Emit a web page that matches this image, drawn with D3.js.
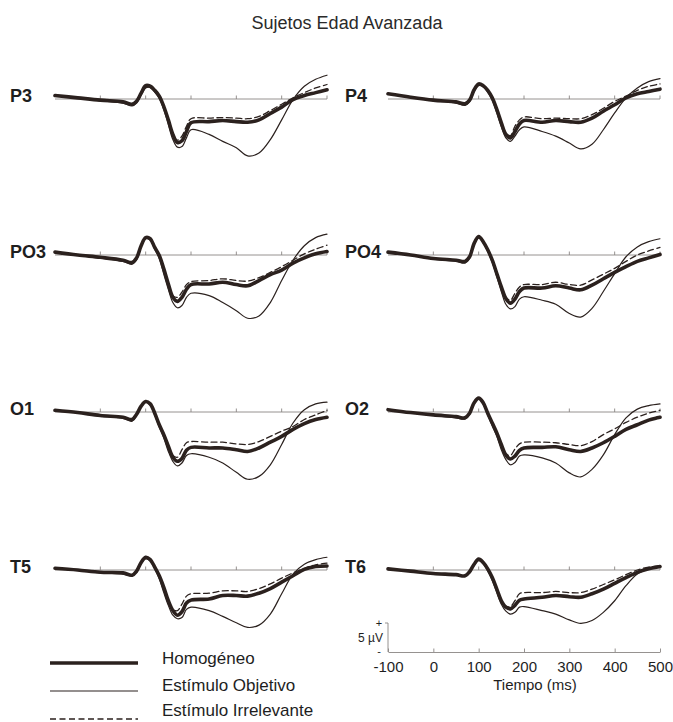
<!DOCTYPE html>
<html>
<head>
<meta charset="utf-8">
<script src="https://cdn.jsdelivr.net/npm/d3@7"></script>
<style>
  html, body { margin: 0; padding: 0; background: #fff; }
  svg { display: block; font-family: "Liberation Sans", Arial, Helvetica, sans-serif; }
</style>
</head>
<body>
<svg id="chart" width="673" height="722"></svg>
<script>
// Sample times (ms) shared by every waveform
const times = [-100, -50, 0, 50, 70, 80, 90, 100, 110, 120, 130, 140, 150, 160, 170, 180, 190, 200, 240, 270, 300, 325, 350, 375, 400, 425, 450, 475, 500];

// Electrode layout (left column, right column)
const electrodes = ["P3", "P4", "PO3", "PO4", "O1", "O2", "T5", "T6"];

// Conditions
const conditions = ["Homogéneo", "Estímulo Objetivo", "Estímulo Irrelevante"];

// Amplitudes in µV per electrode, one array per condition
const homogeneo = {
  P3:  [0.6, 0.2, -0.2, -0.5, -0.9, -0.4, 1.0, 2.3, 2.2, 1.5, 0.5, -1.3, -3.6, -6.1, -7.5, -7.2, -5.6, -4.1, -3.9, -3.7, -3.9, -4.0, -3.6, -2.5, -1.4, -0.1, 0.6, 1.1, 1.6],
  P4:  [0.9, 0.3, -0.2, -0.5, -0.8, -0.2, 1.6, 2.6, 2.3, 1.5, 0.2, -1.8, -4.1, -6.1, -6.7, -5.6, -4.3, -3.7, -4.0, -3.7, -3.9, -4.0, -3.3, -2.1, -1.0, 0.2, 0.9, 1.3, 1.7],
  PO3: [0.5, 0.0, -0.4, -0.9, -1.3, -0.5, 1.6, 3.0, 2.8, 1.3, -0.1, -2.4, -5.0, -7.3, -8.0, -7.3, -5.9, -5.1, -5.0, -4.7, -5.1, -5.3, -4.4, -3.4, -2.6, -1.4, -0.5, 0.2, 0.6],
  PO4: [0.5, 0.0, -0.6, -0.9, -1.1, -0.3, 2.0, 3.2, 2.3, 0.9, -0.9, -3.2, -5.5, -7.5, -8.3, -7.6, -6.3, -5.7, -5.7, -5.3, -5.7, -6.0, -5.2, -4.1, -3.0, -2.0, -1.1, -0.5, 0.1],
  O1:  [0.3, -0.1, -0.6, -0.9, -1.3, -0.4, 1.0, 1.8, 1.4, -0.2, -2.2, -3.9, -5.9, -7.8, -8.5, -8.0, -6.6, -6.1, -6.2, -6.2, -6.5, -6.8, -6.2, -5.2, -4.2, -3.0, -2.0, -1.3, -0.9],
  O2:  [0.4, -0.1, -0.5, -0.8, -1.0, -0.2, 1.6, 2.4, 1.6, -0.2, -1.9, -3.6, -5.6, -7.4, -8.1, -7.6, -6.6, -6.2, -6.1, -6.0, -6.5, -6.8, -6.2, -5.3, -4.2, -3.0, -2.2, -1.4, -0.9],
  T5:  [0.3, 0.0, -0.4, -0.5, -0.9, -0.2, 1.3, 2.2, 1.8, 0.5, -1.0, -3.0, -5.3, -7.0, -7.8, -7.2, -5.7, -5.2, -5.0, -4.4, -4.4, -4.5, -4.0, -3.2, -2.1, -1.0, 0.1, 0.6, 0.7],
  T6:  [0.2, -0.2, -0.6, -0.8, -1.0, -0.3, 1.0, 1.9, 1.3, 0.2, -1.3, -3.3, -5.3, -6.4, -6.7, -6.1, -5.2, -5.0, -4.7, -4.4, -4.6, -4.7, -4.1, -3.3, -2.3, -1.3, -0.4, 0.2, 0.6]
};

const objetivo = {
  P3:  [0.6, 0.2, -0.3, -0.7, -1.2, -0.7, 0.7, 1.9, 2.0, 1.2, 0.1, -1.8, -4.4, -7.0, -8.3, -8.2, -6.7, -5.3, -6.1, -7.3, -8.4, -9.8, -9.3, -7.0, -3.6, -0.1, 2.2, 3.4, 4.1],
  P4:  [0.9, 0.3, -0.3, -0.7, -1.1, -0.5, 1.3, 2.3, 2.1, 1.2, -0.2, -2.4, -4.8, -6.7, -7.3, -6.4, -5.3, -4.8, -5.6, -6.4, -7.6, -8.6, -7.8, -5.3, -2.4, 0.2, 1.9, 3.0, 3.5],
  PO3: [0.5, 0.0, -0.5, -1.1, -1.6, -0.8, 1.4, 2.8, 2.6, 1.0, -0.6, -3.3, -5.9, -8.2, -9.1, -8.7, -7.3, -6.6, -7.0, -8.2, -9.6, -10.9, -10.5, -8.2, -4.4, -0.9, 1.6, 3.0, 3.6],
  PO4: [0.5, 0.0, -0.7, -1.1, -1.4, -0.6, 1.8, 2.9, 2.1, 0.6, -1.3, -3.7, -6.3, -8.5, -9.3, -8.9, -7.6, -7.2, -7.8, -8.5, -10.1, -10.7, -9.2, -6.3, -3.2, -0.3, 1.4, 2.3, 2.8],
  O1:  [0.3, -0.1, -0.7, -1.1, -1.6, -0.6, 0.9, 1.7, 1.2, -0.5, -2.6, -4.5, -6.8, -8.5, -9.3, -8.8, -7.5, -7.2, -7.8, -8.8, -10.4, -11.6, -11.1, -9.1, -5.6, -1.9, 0.4, 1.4, 1.7],
  O2:  [0.4, -0.1, -0.6, -1.0, -1.2, -0.4, 1.4, 2.2, 1.4, -0.5, -2.4, -4.2, -6.5, -8.2, -9.1, -8.7, -7.6, -7.4, -7.9, -8.8, -10.5, -11.2, -9.9, -7.4, -3.9, -1.0, 0.5, 1.1, 1.4],
  T5:  [0.3, 0.0, -0.5, -0.7, -1.0, -0.4, 1.1, 1.9, 1.6, 0.2, -1.5, -3.9, -6.1, -7.8, -8.4, -8.2, -6.8, -6.4, -7.0, -8.0, -9.1, -9.9, -9.5, -7.6, -4.1, -0.7, 1.0, 1.8, 2.2],
  T6:  [0.2, -0.2, -0.7, -0.9, -1.1, -0.5, 0.8, 1.6, 1.1, -0.2, -1.8, -3.9, -5.9, -7.1, -7.6, -7.3, -6.4, -6.3, -7.0, -7.6, -8.6, -9.2, -8.7, -7.3, -5.3, -2.7, -0.7, 0.2, 0.7]
};

const irrelevante = {
  P3:  [0.6, 0.2, -0.2, -0.5, -0.9, -0.4, 1.0, 2.2, 2.1, 1.4, 0.4, -1.4, -3.7, -6.0, -7.1, -6.4, -4.7, -3.4, -3.3, -3.2, -3.3, -3.4, -3.0, -2.0, -0.9, 0.2, 1.1, 1.9, 2.5],
  P4:  [0.9, 0.3, -0.2, -0.5, -0.8, -0.2, 1.5, 2.5, 2.2, 1.4, 0.1, -1.9, -4.1, -5.9, -6.3, -4.7, -3.6, -3.1, -3.4, -3.3, -3.4, -3.4, -2.7, -1.6, -0.4, 0.5, 1.5, 2.2, 2.6],
  PO3: [0.5, 0.0, -0.4, -0.9, -1.3, -0.5, 1.6, 2.9, 2.7, 1.2, -0.2, -2.5, -5.0, -7.0, -7.3, -6.4, -5.1, -4.6, -4.4, -4.1, -4.4, -4.5, -3.9, -3.0, -2.0, -0.9, 0.2, 1.0, 1.7],
  PO4: [0.5, 0.0, -0.6, -0.9, -1.1, -0.3, 2.0, 3.1, 2.2, 0.8, -1.0, -3.3, -5.5, -7.3, -7.8, -6.6, -5.5, -5.1, -5.1, -4.7, -5.1, -5.2, -4.3, -3.3, -2.3, -1.1, 0.0, 0.7, 1.3],
  O1:  [0.3, -0.1, -0.6, -0.9, -1.3, -0.4, 1.0, 1.8, 1.3, -0.3, -2.2, -4.0, -5.9, -7.5, -7.8, -6.5, -5.3, -5.1, -5.2, -5.2, -5.5, -5.6, -5.1, -4.2, -3.3, -2.5, -1.3, -0.5, 0.3],
  O2:  [0.4, -0.1, -0.5, -0.8, -1.0, -0.2, 1.6, 2.4, 1.5, -0.3, -2.0, -3.7, -5.6, -7.2, -7.5, -6.4, -5.5, -5.2, -5.2, -5.3, -5.6, -5.8, -5.1, -3.9, -2.9, -1.8, -0.9, -0.2, 0.3],
  T5:  [0.3, 0.0, -0.4, -0.5, -0.9, -0.2, 1.3, 2.1, 1.7, 0.4, -1.1, -3.1, -5.3, -6.8, -7.0, -5.9, -4.5, -4.1, -4.0, -3.6, -3.6, -3.7, -3.2, -2.4, -1.4, -0.5, 0.3, 0.9, 1.2],
  T6:  [0.2, -0.2, -0.6, -0.8, -1.0, -0.3, 1.0, 1.9, 1.2, 0.1, -1.4, -3.4, -5.3, -6.2, -6.3, -5.3, -4.1, -3.9, -3.9, -3.7, -3.9, -3.9, -3.3, -2.5, -1.7, -0.8, 0.0, 0.5, 0.7]
};

// Time axis ticks (ms) and amplitude calibration (µV)
const timeTicks = [-100, 0, 100, 200, 300, 400, 500];
const calibration = 5;

// ---- drawing ----
const svg = d3.select("#chart");
const ink = "#2b211e";
const grey = "#8a8683";

const columnRange = [[55, 327], [388, 660]];
const rowBaselines = [99, 255, 412, 570];
const pxPerMicroV = 29 / calibration;

const styles = {
  "Homogéneo":            { data: homogeneo,   width: 3.6, dash: null },
  "Estímulo Objetivo":    { data: objetivo,    width: 1.2, dash: null },
  "Estímulo Irrelevante": { data: irrelevante, width: 1.3, dash: "6,3.5" }
};
const drawOrder = ["Estímulo Objetivo", "Estímulo Irrelevante", "Homogéneo"];

// Title
svg.append("text")
  .attr("x", 347).attr("y", 29)
  .attr("text-anchor", "middle")
  .attr("font-size", 18)
  .attr("fill", "#2a2a2a")
  .text("Sujetos Edad Avanzada");

electrodes.forEach((name, i) => {
  const col = i % 2, row = Math.floor(i / 2);
  const base = rowBaselines[row];
  const x = d3.scaleLinear().domain([-100, 500]).range(columnRange[col]);
  const y = d3.scaleLinear().domain([0, calibration]).range([base, base - calibration * pxPerMicroV]);

  const g = svg.append("g");

  // zero line with small upward ticks every 100 ms
  g.append("line")
    .attr("x1", x(-100)).attr("x2", x(500))
    .attr("y1", base).attr("y2", base)
    .attr("stroke", grey).attr("stroke-width", 0.9);
  g.selectAll("line.tick")
    .data(timeTicks.filter(t => t > -100))
    .join("line")
    .attr("class", "tick")
    .attr("x1", d => x(d)).attr("x2", d => x(d))
    .attr("y1", base).attr("y2", base - 3.5)
    .attr("stroke", grey).attr("stroke-width", 0.9);

  // waveforms
  const line = d3.line()
    .x((d, k) => x(times[k]))
    .y(d => y(d))
    .curve(d3.curveCatmullRom.alpha(0.5));

  drawOrder.forEach(c => {
    const s = styles[c];
    g.append("path")
      .attr("d", line(s.data[name]))
      .attr("fill", "none")
      .attr("stroke", ink)
      .attr("stroke-width", s.width)
      .attr("stroke-linejoin", "round")
      .attr("stroke-linecap", "round")
      .attr("stroke-dasharray", s.dash);
  });

  // electrode label
  svg.append("text")
    .attr("x", col === 0 ? 10 : 345)
    .attr("y", base + 3)
    .attr("font-size", 18)
    .attr("font-weight", "bold")
    .attr("fill", "#1e1e1e")
    .text(name);
});

// Time axis under the right column
const xAxisScale = d3.scaleLinear().domain([-100, 500]).range(columnRange[1]);
const axisY = 652;
const axisG = svg.append("g")
  .attr("transform", `translate(0,${axisY})`)
  .call(d3.axisBottom(xAxisScale).tickValues(timeTicks).tickFormat(d3.format("d"))
    .tickSizeInner(-3.5).tickSizeOuter(0).tickPadding(9));
axisG.select(".domain").attr("stroke", grey).attr("stroke-width", 0.9);
axisG.selectAll(".tick line").attr("stroke", grey).attr("stroke-width", 0.9);
axisG.selectAll(".tick text")
  .attr("font-size", 15)
  .attr("font-family", "Liberation Sans, Arial, sans-serif")
  .attr("fill", "#1e1e1e")
  .text(d => d < 0 ? "-" + Math.abs(d) : d);

svg.append("text")
  .attr("x", 535).attr("y", 690)
  .attr("text-anchor", "middle")
  .attr("font-size", 15)
  .attr("fill", "#1e1e1e")
  .text("Tiempo (ms)");

// Amplitude calibration bar
const barX = 388;
const barTop = axisY - calibration * pxPerMicroV;
svg.append("path")
  .attr("d", `M${barX - 3},${barTop}H${barX}V${axisY}`)
  .attr("fill", "none").attr("stroke", grey).attr("stroke-width", 0.9);
svg.append("text").attr("x", 379).attr("y", barTop + 4)
  .attr("text-anchor", "middle").attr("font-size", 11).attr("fill", "#1e1e1e").text("+");
svg.append("text").attr("x", 379).attr("y", axisY + 3)
  .attr("text-anchor", "middle").attr("font-size", 11).attr("fill", "#1e1e1e").text("-");
svg.append("text").attr("x", 383).attr("y", (barTop + axisY) / 2 + 4.5)
  .attr("text-anchor", "end").attr("font-size", 12).attr("fill", "#1e1e1e").text(calibration + " µV");

// Legend
const legendRows = [663, 691, 719];
const legendText = [664, 691, 716];
conditions.forEach((c, i) => {
  const s = styles[c];
  svg.append("line")
    .attr("x1", 50).attr("x2", 138)
    .attr("y1", legendRows[i]).attr("y2", legendRows[i])
    .attr("stroke", ink)
    .attr("stroke-width", s.width)
    .attr("stroke-dasharray", s.dash);
  svg.append("text")
    .attr("x", 162).attr("y", legendText[i])
    .attr("font-size", 17)
    .attr("fill", "#1e1e1e")
    .text(c);
});
</script>
</body>
</html>
